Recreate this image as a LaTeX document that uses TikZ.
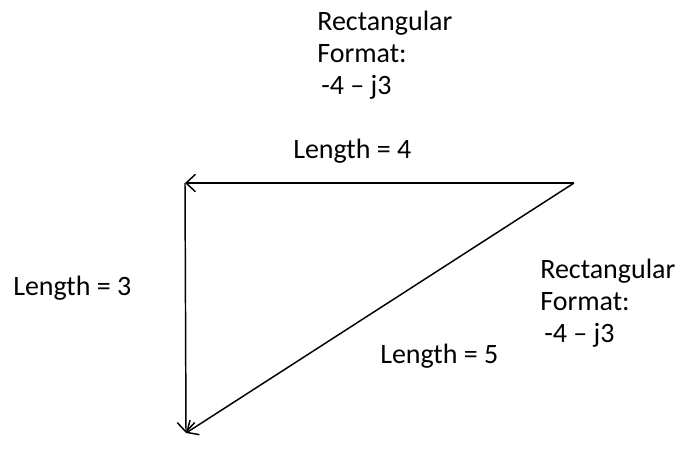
\documentclass[tikz,border=0pt]{standalone}
\usepackage{fontspec}
\setmainfont{Carlito}
\usetikzlibrary{arrows.meta}

\begin{document}
\begin{tikzpicture}[
  x=0.75pt, y=-0.75pt,
  lbl/.style={align=left, inner sep=0pt, anchor=base west, font=\fontsize{21}{24}\selectfont},
  vec/.style={-{Straight Barb[length=7pt, width=13pt]}, line width=1.1pt}
]
\useasboundingbox (0,0) rectangle (688,462);

% corners of the triangle
\coordinate (tr) at (574,183);
\coordinate (tl) at (185,183);
\coordinate (bl) at (186,433);

\draw[vec] (tr) -- (tl);
\draw[vec] (tl) -- (bl);
\draw[vec] (tr) -- (bl);

% labels (base = last line)
\node[lbl] (rectTop) at (317,94) {Rectangular\\Format:\\\hspace{3pt}-4 -- j3};
\node[lbl] (lenFour) at (293,158) {Length = 4};
\node[lbl] (lenThree) at (13,295) {Length = 3};
\node[lbl] (lenFive) at (380,363) {Length = 5};
\node[lbl] (rectRight) at (540,342) {Rectangular\\Format:\\\hspace{3pt}-4 -- j3};
\end{tikzpicture}
\end{document}
